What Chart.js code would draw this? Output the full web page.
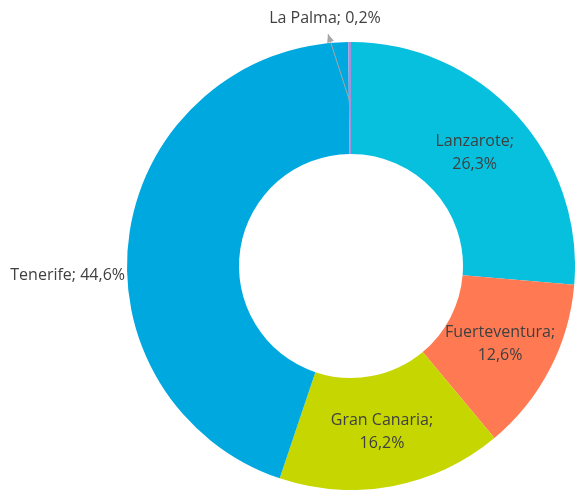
<!DOCTYPE html>
<html>
<head>
<meta charset="utf-8">
<script src="https://cdn.jsdelivr.net/npm/chart.js@4/dist/chart.umd.min.js"></script>
<style>
  html, body { margin: 0; padding: 0; background: #fff; overflow: hidden; }
  #wrap { position: relative; width: 575px; height: 490px; }
</style>
</head>
<body>
<div id="wrap"><canvas id="grafico"></canvas></div>
<script>
// Dados
const islas = ['Lanzarote', 'Fuerteventura', 'Gran Canaria', 'Tenerife', 'La Palma'];
const porcentajes = [26.3, 12.6, 16.2, 44.6, 0.2];
const colores = ['#06C0DE', '#FF7A52', '#C5D600', '#00A8E0', '#A58FDC'];

const fuente = '16px "Open Sans", "Noto Sans", sans-serif';

function fmt(v) {
    return v.toFixed(1).replace('.', ',') + '%';
}

// etiquetas dibujadas a mano
const etiquetas = {
    id: 'etiquetas',
    afterDatasetsDraw(chart) {
        const ctx = chart.ctx;
        const arcs = chart.getDatasetMeta(0).data;
        ctx.save();
        ctx.font = fuente;
        ctx.fillStyle = '#404040';
        ctx.textBaseline = 'middle';
        arcs.forEach((arc, i) => {
            const p = arc.getProps(['x', 'y', 'startAngle', 'endAngle', 'innerRadius', 'outerRadius']);
            const mid = (p.startAngle + p.endAngle) / 2;
            const r = (p.innerRadius + p.outerRadius) / 2;
            const texto = islas[i] + ';';
            const valor = fmt(porcentajes[i]);
            if (i === 3) {
                // Tenerife fuera, a la izquierda
                ctx.textAlign = 'right';
                ctx.fillText(texto + ' ' + valor, p.x - p.outerRadius - 2, p.y + 9);
            } else if (i === 4) {
                // La Palma con flecha
                ctx.textAlign = 'center';
                const lx = p.x - 26, ly = 18;
                ctx.fillText(texto + ' ' + valor, lx, ly);
                const sx = p.x + Math.cos(mid) * (p.outerRadius - 60);
                const sy = p.y + Math.sin(mid) * (p.outerRadius - 60);
                const ex = lx + 3, ey = ly + 16;
                ctx.strokeStyle = '#A6A6A6';
                ctx.fillStyle = '#A6A6A6';
                ctx.lineWidth = 1;
                ctx.beginPath();
                ctx.moveTo(sx, sy);
                ctx.lineTo(ex, ey);
                ctx.stroke();
                const ang = Math.atan2(ey - sy, ex - sx);
                ctx.beginPath();
                ctx.moveTo(ex, ey);
                ctx.lineTo(ex - 9 * Math.cos(ang - 0.4), ey - 9 * Math.sin(ang - 0.4));
                ctx.lineTo(ex - 9 * Math.cos(ang + 0.4), ey - 9 * Math.sin(ang + 0.4));
                ctx.closePath();
                ctx.fill();
                ctx.fillStyle = '#404040';
            } else {
                ctx.textAlign = 'center';
                const x = p.x + Math.cos(mid) * r;
                const y = p.y + Math.sin(mid) * r;
                ctx.fillText(texto, x, y - 11);
                ctx.fillText(valor, x, y + 12);
            }
        });
        ctx.restore();
    }
};

window.onload = function() {
    const ctx = document.getElementById('grafico').getContext('2d');
    new Chart(ctx, {
        type: 'doughnut',
        data: {
            labels: islas,
            datasets: [{
                data: porcentajes,
                backgroundColor: colores,
                borderWidth: 0,
                hoverOffset: 0
            }]
        },
        options: {
            responsive: true,
            maintainAspectRatio: false,
            animation: false,
            cutout: '50%',
            layout: { padding: { left: 127, right: 0, top: 42, bottom: 0 } },
            plugins: {
                legend: { display: false },
                tooltip: { enabled: false }
            }
        },
        plugins: [etiquetas]
    });
};
</script>
</body>
</html>
